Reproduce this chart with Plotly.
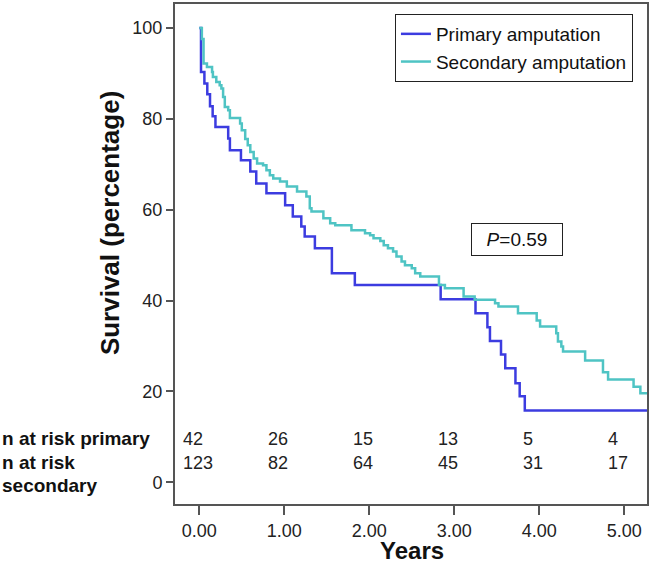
import plotly.graph_objects as go

# ---------------- data ----------------
primary_t = [0, 0.02, 0.06, 0.094, 0.126, 0.157, 0.19, 0.34, 0.36, 0.49, 0.60, 0.67, 0.79,
             1.01, 1.10, 1.20, 1.24, 1.36, 1.56, 1.83, 2.84, 3.25, 3.39, 3.42, 3.55, 3.60,
             3.72, 3.77, 3.83, 5.27]
primary_s = [100, 90.3, 87.8, 85.4, 82.8, 80.6, 78.2, 75.7, 73.1, 70.9, 68.4, 65.8, 63.6,
             61.0, 58.5, 56.3, 54.1, 51.5, 46.0, 43.4, 40.3, 37.2, 34.1, 31.1, 28.1, 25.1,
             21.8, 18.9, 15.8, 15.8]

secondary_t = [0, 0.03, 0.05, 0.09, 0.15, 0.16, 0.20, 0.24, 0.26, 0.28, 0.30, 0.34, 0.36,
               0.48, 0.50, 0.54, 0.57, 0.60, 0.64, 0.68, 0.75, 0.79, 0.83, 0.87, 0.95, 1.03,
               1.15, 1.26, 1.30, 1.32, 1.46, 1.54, 1.60, 1.79, 1.95, 2.01, 2.05, 2.13, 2.17,
               2.22, 2.28, 2.32, 2.38, 2.42, 2.50, 2.54, 2.60, 2.82, 2.89, 3.11, 3.24, 3.48,
               3.52, 3.75, 3.97, 4.01, 4.20, 4.22, 4.26, 4.28, 4.54, 4.75, 4.81, 5.11, 5.19,
               5.27]
secondary_s = [100, 97.6, 92.2, 91.4, 90.3, 89.2, 88.1, 87.4, 86.7, 84.8, 82.6, 81.9, 80.2,
               79.0, 77.5, 75.6, 74.2, 72.7, 71.3, 70.2, 69.8, 68.7, 67.6, 66.9, 66.2, 65.1,
               64.0, 62.9, 60.3, 59.6, 58.1, 57.0, 56.6, 55.5, 54.8, 54.4, 53.7, 53.1, 52.2,
               51.5, 50.8, 49.7, 48.6, 47.8, 47.1, 46.0, 45.3, 43.4, 42.7, 40.9, 40.2, 39.4,
               38.7, 37.2, 35.6, 34.3, 32.8, 31.0, 29.9, 28.8, 26.8, 24.2, 22.6, 21.0, 19.6,
               19.6]

x_ticks = [0, 1, 2, 3, 4, 5]
x_ticklabels = ["0.00", "1.00", "2.00", "3.00", "4.00", "5.00"]
y_ticks = [0, 20, 40, 60, 80, 100]

risk_times = [0, 1, 2, 3, 4, 5]
risk_primary = [42, 26, 15, 13, 5, 4]
risk_secondary = [123, 82, 64, 45, 31, 17]

p_text = "<i>P</i>=0.59"

# ---------------- figure ----------------
FONT = "Liberation Sans, Arial, Helvetica, sans-serif"
AX = "#555555"

fig = go.Figure()
fig.add_trace(go.Scatter(x=primary_t, y=primary_s, mode="lines", line_shape="hv",
                         name="Primary amputation",
                         line=dict(color="#3c3ce0", width=2.5)))
fig.add_trace(go.Scatter(x=secondary_t, y=secondary_s, mode="lines", line_shape="hv",
                         name="Secondary amputation",
                         line=dict(color="#4fc4c4", width=2.5)))

annotations = []
# risk table numbers
for t, a, b in zip(risk_times, risk_primary, risk_secondary):
    annotations.append(dict(x=t - 0.22, y=9.5, xref="x", yref="y", text=str(a),
                            showarrow=False, xanchor="left", yanchor="middle",
                            font=dict(size=18, color="#222")))
    annotations.append(dict(x=t - 0.22, y=4.2, xref="x", yref="y", text=str(b),
                            showarrow=False, xanchor="left", yanchor="middle",
                            font=dict(size=18, color="#222")))

# risk row labels
def paper_xy(px, py):
    return (px - 175) / 472.0, 1 - (py - 2) / 502.0

lx, ly = paper_xy(0, 438)
annotations.append(dict(x=lx, y=ly, xref="paper", yref="paper", text="<b>n at risk primary</b>",
                        showarrow=False, xanchor="left", yanchor="middle",
                        font=dict(size=19, color="#111")))
lx, ly = paper_xy(0, 462)
annotations.append(dict(x=lx, y=ly, xref="paper", yref="paper", text="<b>n at risk</b>",
                        showarrow=False, xanchor="left", yanchor="middle",
                        font=dict(size=19, color="#111")))
lx, ly = paper_xy(0, 485)
annotations.append(dict(x=lx, y=ly, xref="paper", yref="paper", text="<b>secondary</b>",
                        showarrow=False, xanchor="left", yanchor="middle",
                        font=dict(size=19, color="#111")))

# axis titles
tx, ty = paper_xy(110, 222)
annotations.append(dict(x=tx, y=ty, xref="paper", yref="paper", text="<b>Survival (percentage)</b>",
                        showarrow=False, textangle=-90, xanchor="center", yanchor="middle",
                        font=dict(size=26, color="#111")))
tx, ty = paper_xy(412, 551)
annotations.append(dict(x=tx, y=ty, xref="paper", yref="paper", text="<b>Years</b>",
                        showarrow=False, xanchor="center", yanchor="middle",
                        font=dict(size=24, color="#111")))

# P value box
annotations.append(dict(x=3.74, y=53.5, xref="x", yref="y", text=p_text, showarrow=False,
                        xanchor="center", yanchor="middle", bordercolor="#222", borderwidth=1,
                        borderpad=5, width=80, bgcolor="white", font=dict(size=19, color="#111")))

fig.update_layout(
    width=651, height=566,
    margin=dict(l=175, r=4, t=2, b=62),
    paper_bgcolor="white", plot_bgcolor="white",
    font=dict(family=FONT, color="#222"),
    showlegend=True,
    legend=dict(x=0.466, y=0.98, xanchor="left", yanchor="top",
                bordercolor="#222", borderwidth=1, bgcolor="white",
                font=dict(size=19, color="#111"), itemwidth=30, tracegroupgap=0),
    annotations=annotations,
    xaxis=dict(range=[-0.286, 5.268], tickvals=x_ticks, ticktext=x_ticklabels,
               ticks="outside", ticklen=9, tickwidth=1.5, tickcolor=AX,
               showline=True, linecolor=AX, linewidth=2, mirror=True,
               showgrid=False, zeroline=False, tickfont=dict(size=18, color="#222")),
    yaxis=dict(range=[-4.8, 105.3], tickvals=y_ticks,
               ticks="outside", ticklen=7, tickwidth=1.5, tickcolor=AX,
               showline=True, linecolor=AX, linewidth=2, mirror=True,
               showgrid=False, zeroline=False, tickfont=dict(size=18, color="#222")),
)

fig.write_html("out.html", config={"displayModeBar": False},
               post_script="document.body.style.margin='0';")
